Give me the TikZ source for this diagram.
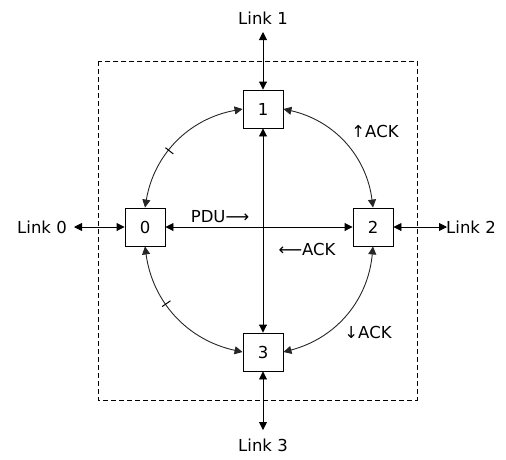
\documentclass[tikz,border=0pt]{standalone}
\usepackage{fontspec}
\setmainfont{DejaVu Sans}
\usetikzlibrary{arrows.meta,decorations.markings}
\tikzset{
  x=1pt, y=-1pt,
  every node/.style={font=\fontsize{16.5}{19}\selectfont},
  nbox/.style={draw, line width=0.9pt, minimum width=40pt, minimum height=38pt, inner sep=0pt, fill=white},
  arr/.style={{Triangle[length=8pt,width=8pt]}-{Triangle[length=8pt,width=8pt]}, line width=0.9pt},
  carc/.style={arr, draw=black!85},
  tickat/.style={postaction={decorate}, decoration={markings, mark=at position #1 with {\draw[-, line width=1pt, black] (0pt,-5pt) -- (0pt,5pt);}}},
  frame/.style={draw, line width=0.9pt, dash pattern=on 5pt off 3pt},
  lbl/.style={inner sep=1pt}
}
\begin{document}
\begin{tikzpicture}
\useasboundingbox (0,0) rectangle (506,459);
\draw[frame] (98,61) rectangle (417,400);

\node[nbox] (n1) at (263,109) {1};
\node[nbox] (n0) at (145,227) {0};
\node[nbox] (n2) at (373,227) {2};
\node[nbox] (n3) at (263,352) {3};

\coordinate (e1) at (263,32);
\coordinate (e0) at (74,227);
\coordinate (e2) at (447,227);
\coordinate (e3) at (263,430);

\node[lbl] (t1) at (263,18) {Link 1};
\node[lbl] (t0) at (42,227) {Link 0};
\node[lbl] (t2) at (471,227) {Link 2};
\node[lbl] (t3) at (263,445) {Link 3};

\draw[arr] (n1.north) -- (e1);
\draw[arr] (n0.west) -- (e0);
\draw[arr] (n2.east) -- (e2);
\draw[arr] (n3.south) -- (e3);

\draw[arr] (n0.east) -- (n2.west);
\draw[arr] (n1.south) -- (n3.north);

\draw[carc, tickat=0.58] (n1.west) to[bend right=35] (n0.north);
\draw[carc, tickat=0.4] (n0.south) to[bend right=35] (n3.west);
\draw[carc] (n3.east) to[bend right=35] (n2.south);
\draw[carc] (n2.north) to[bend right=35] (n1.east);

\node[lbl] (pdu) at (220,217) {PDU⟶};
\node[lbl] (ackl) at (307,249) {⟵ACK};
\node[lbl] (acku) at (375,131) {↑ACK};
\node[lbl] (ackd) at (368,332) {↓ACK};
\end{tikzpicture}
\end{document}
